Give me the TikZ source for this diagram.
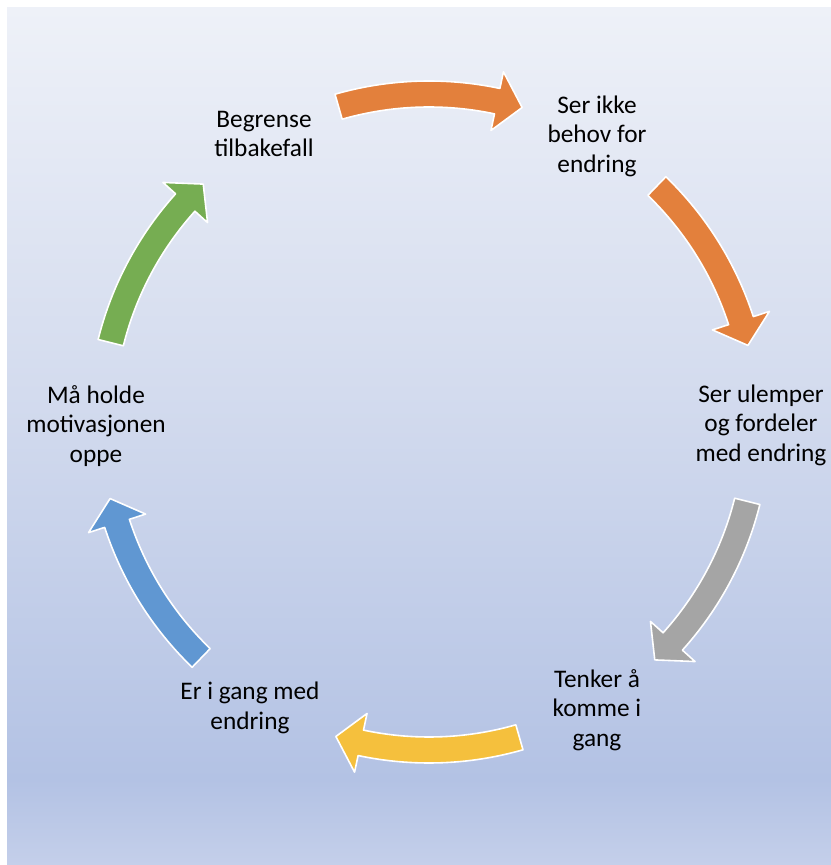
\documentclass[tikz,border=0pt]{standalone}
\usepackage{fontspec}
\setmainfont{Carlito}
\definecolor{bgtop}{RGB}{238,241,248}
\definecolor{bgmid}{RGB}{211,219,238}
\definecolor{bgdark}{RGB}{179,194,228}
\definecolor{bgbot}{RGB}{196,207,234}
\definecolor{arrorange}{RGB}{227,128,60}
\definecolor{arrgray}{RGB}{165,165,165}
\definecolor{arryellow}{RGB}{245,192,61}
\definecolor{arrblue}{RGB}{96,151,210}
\definecolor{arrgreen}{RGB}{118,173,82}
\begin{document}
\begin{tikzpicture}[x=0.5bp, y=0.5bp,
  stage/.style={align=center, font=\fontsize{12.7}{14.8}\selectfont, text=black},
  cyc/.style={draw=white, line width=0.8pt, line join=round}]
% Page and background
\useasboundingbox (0,0) rectangle (831,865);
\shade[top color=bgtop, bottom color=bgdark, middle color=bgmid] (7,85) rectangle (831,857);
\shade[top color=bgdark, bottom color=bgbot] (7,0) rectangle (831,86);

% One curved arrow: #1 colour, #2 middle angle (runs clockwise)
\def\cyclearrow#1#2{%
  \path[cyc, fill=#1] ({#2+16}:341) arc[start angle={#2+16}, end angle={#2-12}, radius=341]
    -- ({#2-12}:358) -- ({#2-16.5}:328) -- ({#2-12}:298) -- ({#2-12}:315)
    arc[start angle={#2-12}, end angle={#2+16}, radius=315] -- cycle;}

% Arrows round the circle
\begin{scope}[shift={(429,443)}]
\cyclearrow{arrorange}{90}
\cyclearrow{arrorange}{30}
\cyclearrow{arrgray}{-30}
\cyclearrow{arryellow}{-90}
\cyclearrow{arrblue}{210}
\cyclearrow{arrgreen}{150}
\end{scope}

% Stages
\node[stage] (relapse) at (264,731) {Begrense\\tilbakefall};
\node[stage] (noneed) at (597,729) {Ser ikke\\behov for\\endring};
\node[stage] (weigh) at (761,440) {Ser ulemper\\og fordeler\\med endring};
\node[stage] (intend) at (597,155) {Tenker å\\komme i\\gang};
\node[stage] (action) at (250,157) {Er i gang med\\endring};
\node[stage] (keepup) at (96,439) {Må holde\\motivasjonen\\oppe};
\end{tikzpicture}
\end{document}
